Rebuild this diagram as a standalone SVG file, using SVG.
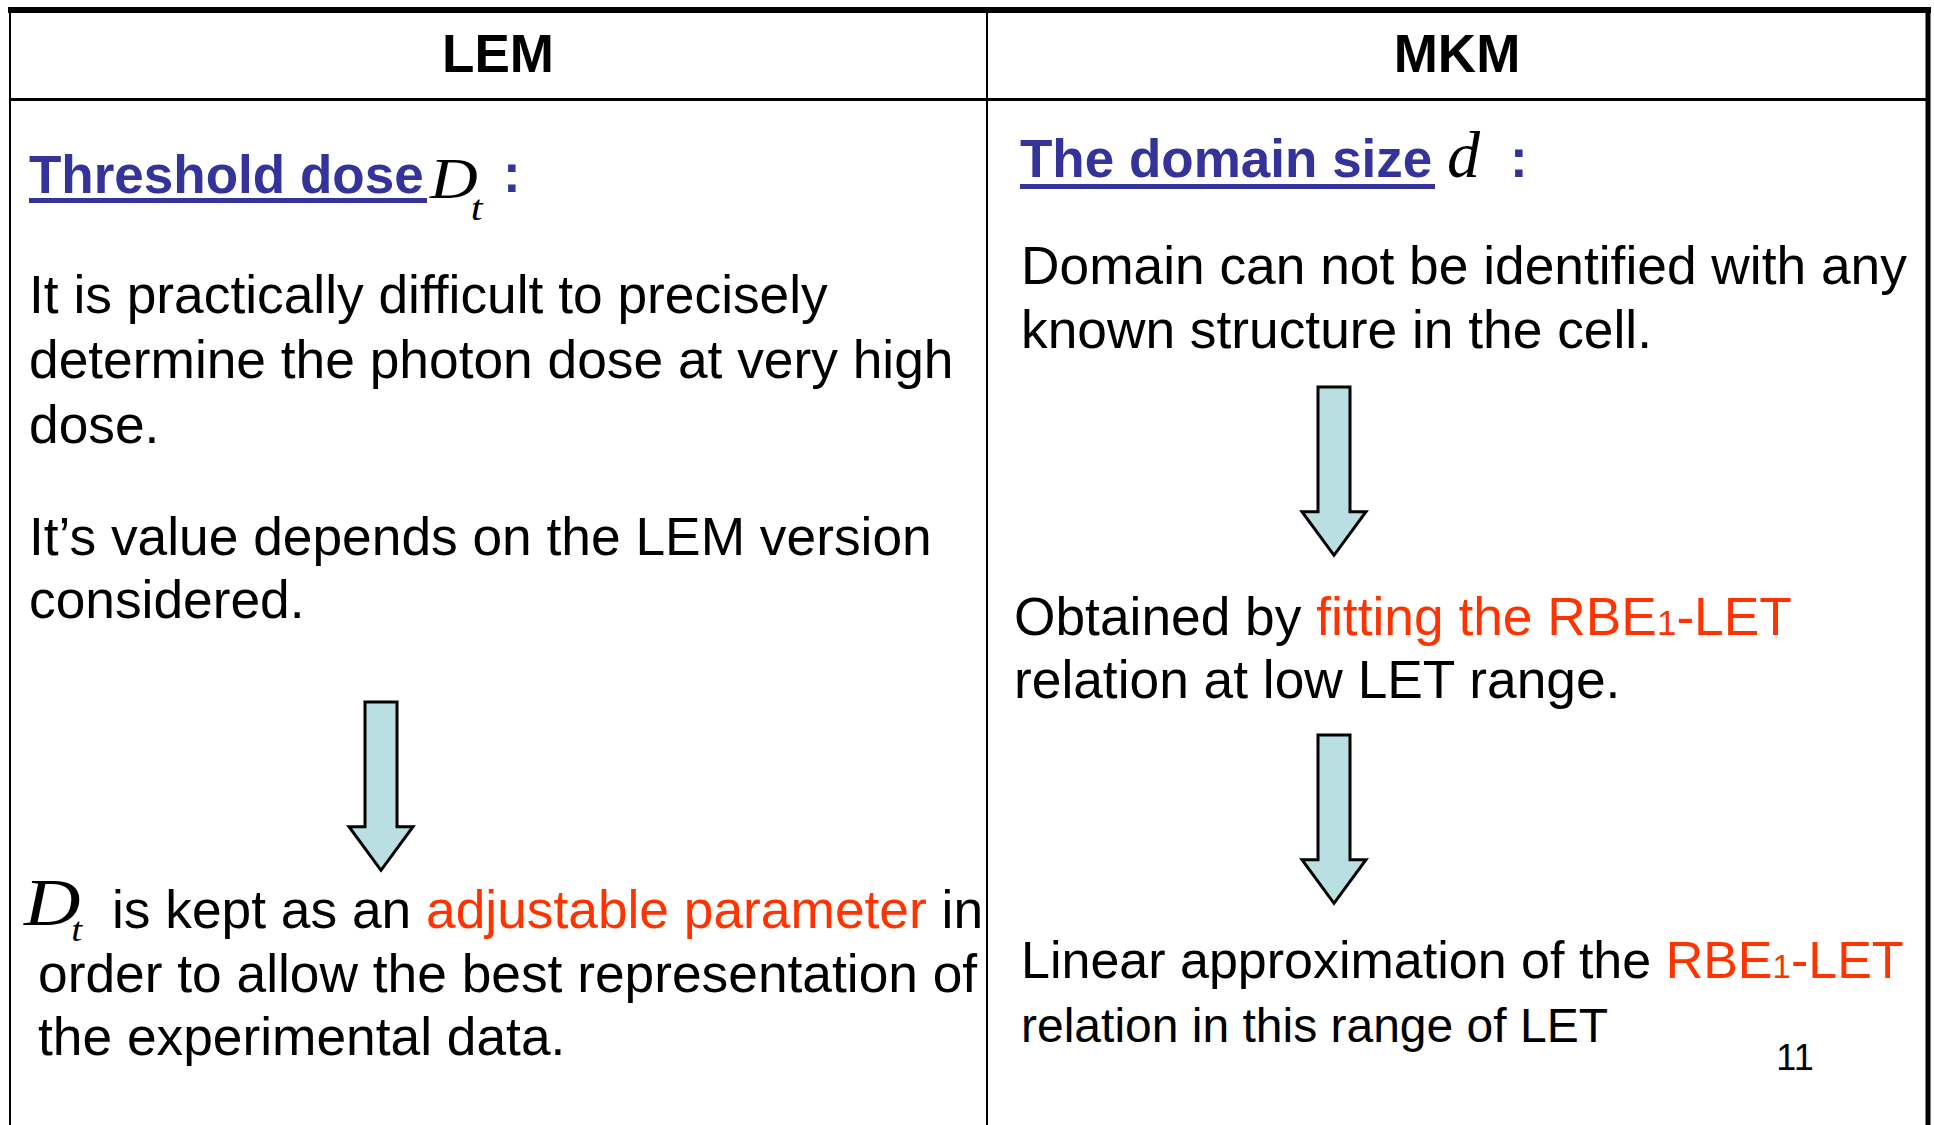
<svg xmlns="http://www.w3.org/2000/svg" width="1934" height="1125" viewBox="0 0 1934 1125">
  <style>
    .t { font-family: "Liberation Sans", Arial, sans-serif; font-size: 53.3px; fill: #000; }
    .hd { font-family: "Liberation Sans", Arial, sans-serif; font-size: 53px; font-weight: bold; fill: #000; }
    .bl { font-family: "Liberation Sans", Arial, sans-serif; font-size: 53px; font-weight: bold; fill: #333399; }
    .red { fill: #ff3300; }
    .m { font-family: "Liberation Serif", "Times New Roman", serif; font-style: italic; fill: #000; }
    .arrow { fill: #b9dfe3; stroke: #000; stroke-width: 3; stroke-linejoin: miter; }
    .ln { stroke: #000; fill: none; }
  </style>
  <defs>
    <path id="downArrow" d="M -16 0 L 16 0 L 16 126 L 32 126 L 0 170 L -32 126 L -16 126 Z"/>
  </defs>
  <rect x="0" y="0" width="1934" height="1125" fill="#ffffff"/>

  <g id="table">
    <line class="ln" x1="8" y1="10" x2="1931" y2="10" stroke-width="6"/>
    <line class="ln" x1="10" y1="99.5" x2="1928" y2="99.5" stroke-width="3"/>
    <line class="ln" x1="10" y1="10" x2="10" y2="1125" stroke-width="2"/>
    <line class="ln" x1="987" y1="10" x2="987" y2="1125" stroke-width="2"/>
    <line class="ln" x1="1928" y1="10" x2="1928" y2="1125" stroke-width="5"/>
  </g>

  <g id="header-lem">
    <text class="hd" x="498" y="72" text-anchor="middle">LEM</text>
  </g>
  <g id="header-mkm">
    <text class="hd" x="1457" y="72" text-anchor="middle">MKM</text>
  </g>

  <g id="lem-title">
    <text class="bl" x="29" y="193">Threshold dose</text>
    <rect x="29" y="198" width="398" height="5" fill="#333399"/>
    <text class="m" transform="translate(430,198) scale(1.18,1)" x="0" y="0" style="font-size:56px">D<tspan style="font-size:36px" dx="-6" dy="22">t</tspan></text>
    <text class="bl" x="503" y="192">:</text>
  </g>

  <g id="lem-text1">
    <text class="t" x="29" y="313">It is practically difficult to precisely</text>
    <text class="t" x="29" y="378">determine the photon dose at very high</text>
    <text class="t" x="29" y="443">dose.</text>
  </g>

  <g id="lem-text2">
    <text class="t" x="29" y="555">It’s value depends on the LEM version</text>
    <text class="t" x="29" y="618">considered.</text>
  </g>

  <g id="lem-result">
    <text class="m" transform="translate(24,925) scale(1.15,1)" x="0" y="0" style="font-size:68px">D<tspan style="font-size:34px" dx="-8" dy="16">t</tspan></text>
    <text class="t" x="112" y="928">is kept as an <tspan class="red">adjustable parameter</tspan> in</text>
    <text class="t" x="38" y="992">order to allow the best representation of</text>
    <text class="t" x="38" y="1055">the experimental data.</text>
  </g>

  <g id="mkm-title">
    <text class="bl" x="1020" y="177">The domain size</text>
    <rect x="1020" y="184" width="415" height="5" fill="#333399"/>
    <text class="m" x="1447" y="177" style="font-size:66px">d</text>
    <text class="bl" x="1510" y="177">:</text>
  </g>

  <g id="mkm-text1">
    <text class="t" x="1021" y="284">Domain can not be identified with any</text>
    <text class="t" x="1021" y="348">known structure in the cell.</text>
  </g>

  <g id="mkm-text2">
    <text class="t" x="1014" y="635">Obtained by <tspan class="red">fitting the RBE<tspan style="font-size:35px">1</tspan>-LET</tspan></text>
    <text class="t" x="1014" y="698">relation at low LET range.</text>
  </g>

  <g id="mkm-text3">
    <text class="t" x="1021" y="978" style="font-size:52px">Linear approximation of the <tspan class="red">RBE<tspan style="font-size:33px">1</tspan>-LET</tspan></text>
    <text class="t" x="1021" y="1042" style="font-size:48px">relation in this range of LET</text>
  </g>

  <g id="page-number">
    <text class="t" x="1795" y="1070" text-anchor="middle" style="font-size:36px">11</text>
  </g>

  <g id="connectors">
    <use href="#downArrow" class="arrow" transform="translate(381,702) scale(1,0.99)"/>
    <use href="#downArrow" class="arrow" transform="translate(1334,387) scale(1,0.99)"/>
    <use href="#downArrow" class="arrow" transform="translate(1334,735) scale(1,0.99)"/>
  </g>
</svg>
